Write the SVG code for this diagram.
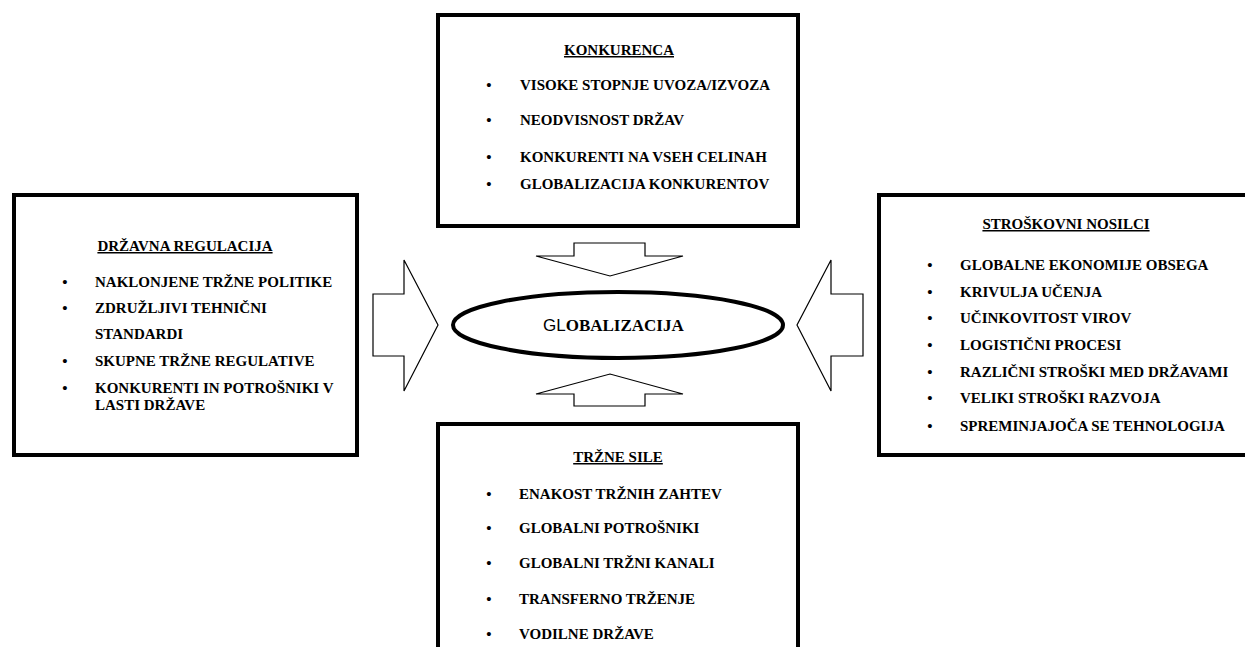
<svg xmlns="http://www.w3.org/2000/svg" width="1245" height="647" viewBox="0 0 1245 647" font-family="Liberation Serif, DejaVu Serif, serif">
<style>
.box{fill:#fff;stroke:#000;stroke-width:4}
.arr{fill:#fff;stroke:#000;stroke-width:1.2;stroke-linejoin:miter}
text{font-family:'Liberation Serif','DejaVu Serif',serif;font-weight:bold;font-size:15px;fill:#000}
.ttl{text-decoration:underline;text-anchor:middle}
.b{text-anchor:middle}
.sans{font-family:'Liberation Sans','DejaVu Sans',sans-serif;font-weight:normal}
</style>
<rect width="1245" height="647" fill="#fff"/>
<g id="connectors">
<polygon class="arr" points="373,294 404,294 404,260 438,325 404,391 404,356 373,356"/>
<polygon class="arr" points="863,294 831,294 831,260 797,325 831,391 831,356 863,356"/>
<polygon class="arr" points="574,243 645,243 645,256 683,256 610,276 536,256 574,256"/>
<polygon class="arr" points="574,406 645,406 645,394 683,394 610,374 536,394 574,394"/>
</g>
<g id="konkurenca">
<rect class="box" x="438" y="15" width="360" height="211"/>
<text class="ttl" x="619" y="55">KONKURENCA</text>
<text class="b" x="489" y="90">•</text><text x="520" y="90">VISOKE STOPNJE UVOZA/IZVOZA</text>
<text class="b" x="489" y="125">•</text><text x="520" y="125">NEODVISNOST DRŽAV</text>
<text class="b" x="489" y="162">•</text><text x="520" y="162">KONKURENTI NA VSEH CELINAH</text>
<text class="b" x="489" y="189">•</text><text x="520" y="189">GLOBALIZACIJA KONKURENTOV</text>
</g>
<g id="drzavna">
<rect class="box" x="14" y="195" width="343" height="260"/>
<text class="ttl" x="185" y="251">DRŽAVNA REGULACIJA</text>
<text class="b" x="65" y="287">•</text><text x="95" y="287">NAKLONJENE TRŽNE POLITIKE</text>
<text class="b" x="65" y="313">•</text><text x="95" y="313">ZDRUŽLJIVI TEHNIČNI</text>
<text x="95" y="339">STANDARDI</text>
<text class="b" x="65" y="366">•</text><text x="95" y="366">SKUPNE TRŽNE REGULATIVE</text>
<text class="b" x="65" y="393">•</text><text x="95" y="393">KONKURENTI IN POTROŠNIKI V</text>
<text x="95" y="410">LASTI DRŽAVE</text>
</g>
<g id="stroskovni">
<rect class="box" x="879" y="195" width="380" height="260"/>
<text class="ttl" x="1066" y="229">STROŠKOVNI NOSILCI</text>
<text class="b" x="930" y="270">•</text><text x="960" y="270">GLOBALNE EKONOMIJE OBSEGA</text>
<text class="b" x="930" y="297">•</text><text x="960" y="297">KRIVULJA UČENJA</text>
<text class="b" x="930" y="323">•</text><text x="960" y="323">UČINKOVITOST VIROV</text>
<text class="b" x="930" y="350">•</text><text x="960" y="350">LOGISTIČNI PROCESI</text>
<text class="b" x="930" y="377">•</text><text x="960" y="377">RAZLIČNI STROŠKI MED DRŽAVAMI</text>
<text class="b" x="930" y="403">•</text><text x="960" y="403">VELIKI STROŠKI RAZVOJA</text>
<text class="b" x="930" y="431">•</text><text x="960" y="431">SPREMINJAJOČA SE TEHNOLOGIJA</text>
</g>
<g id="trzne">
<rect class="box" x="438" y="424" width="360" height="260"/>
<text class="ttl" x="618" y="462">TRŽNE SILE</text>
<text class="b" x="489" y="499">•</text><text x="519" y="499">ENAKOST TRŽNIH ZAHTEV</text>
<text class="b" x="489" y="533">•</text><text x="519" y="533">GLOBALNI POTROŠNIKI</text>
<text class="b" x="489" y="568">•</text><text x="519" y="568">GLOBALNI TRŽNI KANALI</text>
<text class="b" x="489" y="604">•</text><text x="519" y="604">TRANSFERNO TRŽENJE</text>
<text class="b" x="489" y="639">•</text><text x="519" y="639">VODILNE DRŽAVE</text>
</g>
<g id="globalizacija">
<ellipse cx="618" cy="325" rx="165" ry="33" fill="#fff" stroke="#000" stroke-width="4"/>
<text x="543" y="331" style="font-size:17px"><tspan class="sans">GL</tspan>OBALIZACIJA</text>
</g>
</svg>
